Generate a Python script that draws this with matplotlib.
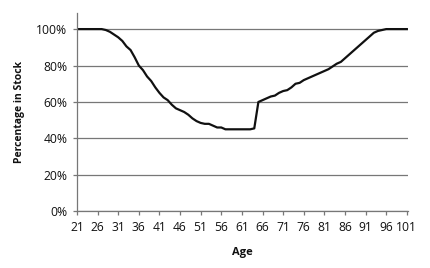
"""Glide path: percentage in stock by age."""

import matplotlib

matplotlib.use("Agg")
import matplotlib.pyplot as plt
from matplotlib.ticker import FuncFormatter

# age 21..101, one value per year
ages = list(range(21, 102))
pct_stock = [
    100, 100, 100, 100, 100, 100, 100,          # 21-27
    99.5, 98.5, 97, 95.5, 93.5, 90.5, 88.5,     # 28-34
    84.5, 80, 77.5, 74, 71.5, 68, 65,           # 35-41
    62.5, 61, 58.5, 56.5, 55.5, 54.5, 53,       # 42-48
    51, 49.5, 48.5, 48, 48, 47, 46,             # 49-55
    46, 45, 45, 45, 45, 45, 45,                 # 56-62
    45, 45.5, 60, 61, 62, 63, 63.5,             # 63-69
    65, 66, 66.5, 68, 70, 70.5, 72,             # 70-76
    73, 74, 75, 76, 77, 78, 79.5,               # 77-83
    81, 82, 84, 86, 88, 90, 92,                 # 84-90
    94, 96, 98, 99, 99.5, 100, 100,             # 91-97
    100, 100, 100, 100,                         # 98-101
]
x_ticks = list(range(21, 102, 5))
y_ticks = [0, 20, 40, 60, 80, 100]

plt.rcParams["font.family"] = ["Open Sans", "DejaVu Sans"]

fig = plt.figure(figsize=(4.3, 2.68), dpi=100)
ax = fig.add_axes([0.179, 0.2116, 0.770, 0.741])

ax.plot(ages, pct_stock, color="#111111", lw=1.6, solid_joinstyle="round")

ax.set_xlim(21, 101.3)
ax.set_ylim(0, 109)
ax.set_xticks(x_ticks)
ax.set_yticks(y_ticks)
ax.yaxis.set_major_formatter(FuncFormatter(lambda v, _: f"{v:.0f}%"))

ax.grid(axis="y", color="#777777", lw=0.9)
ax.set_axisbelow(True)
for side in ("top", "right"):
    ax.spines[side].set_visible(False)
for side in ("left", "bottom"):
    ax.spines[side].set_color("#777777")
    ax.spines[side].set_linewidth(0.9)

ax.tick_params(axis="both", colors="#777777", length=3, width=0.9,
               labelsize=8.7, labelcolor="#111111")
ax.tick_params(axis="x", pad=4)
ax.tick_params(axis="y", pad=4)

ax.set_xlabel("Age", fontsize=8, fontweight="bold", color="#111111", labelpad=9)
ax.set_ylabel("Percentage in Stock", fontsize=7.5, fontweight="bold",
              color="#111111", labelpad=8)

fig.savefig("out.png", dpi=100)
plt.close(fig)
